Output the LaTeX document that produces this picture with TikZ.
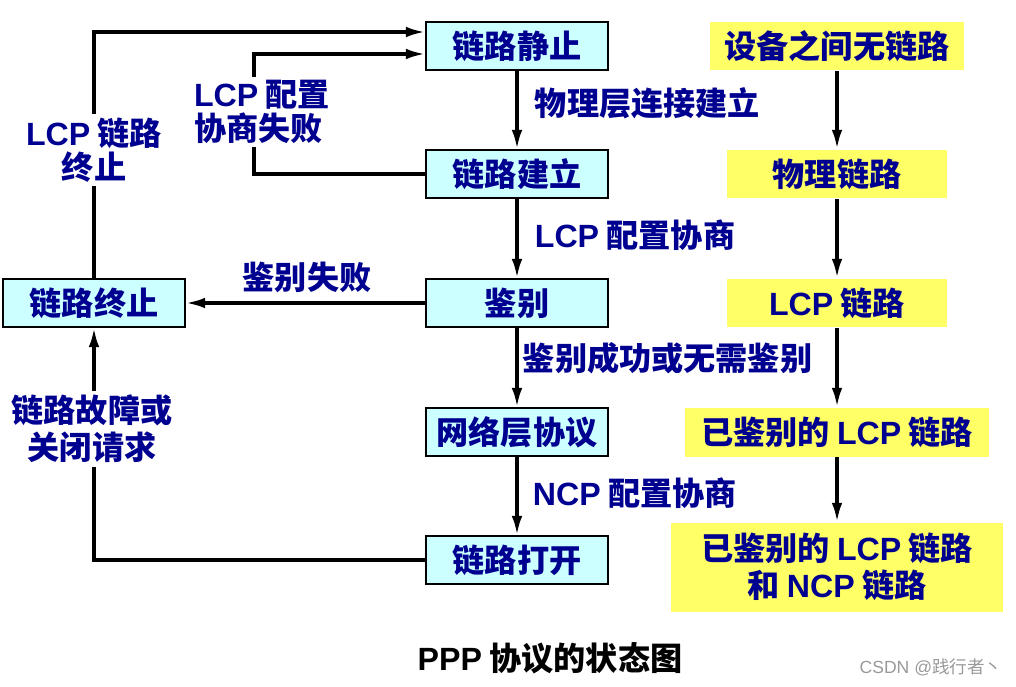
\documentclass[tikz,border=0pt]{standalone}
\usepackage{fontspec}
\setmainfont{Noto Sans CJK SC}
\newfontfamily\latfont{Liberation Sans}
\newcommand{\en}[1]{{\latfont #1}}
\usetikzlibrary{arrows.meta, positioning}
\definecolor{pnavy}{HTML}{000090}
\definecolor{pcyan}{HTML}{CCFFFF}
\definecolor{pyellow}{HTML}{FFFF66}
\tikzset{
  stbox/.style={draw=black, fill=pcyan, line width=0.8pt, inner sep=0pt,
                minimum width=3.64cm, minimum height=0.96cm, text=pnavy},
  lkbox/.style={fill=pyellow, inner sep=0pt, minimum height=0.98cm, text=pnavy},
  lbl/.style={text=pnavy, inner sep=2pt, align=center},
  arr/.style={-{Latex[length=11pt,width=6pt]}, line width=1.9pt},
  ln/.style={line width=1.9pt},
}

\begin{document}
\begin{tikzpicture}[
    x=0.02cm, y=-0.02cm,
    every node/.style={font=\fontsize{18.3}{19}\selectfont\bfseries}
  ]
  \useasboundingbox (0,0) rectangle (1016,686);

  % states
  \node[stbox] (s1) at (517,46) {链路静止};
  \node[stbox] (s2) at (517,174) {链路建立};
  \node[stbox] (s3) at (517,303) {鉴别};
  \node[stbox] (s4) at (517,432) {网络层协议};
  \node[stbox] (s5) at (517,560) {链路打开};
  \node[stbox] (term) at (94,303) {链路终止};

  % link status
  \node[lkbox, minimum width=5.08cm] (r1) at (837,46) {设备之间无链路};
  \node[lkbox, minimum width=4.42cm] (r2) at (837,174) {物理链路};
  \node[lkbox, minimum width=4.42cm] (r3) at (837,303) {\en{LCP} 链路};
  \node[lkbox, minimum width=6.08cm] (r4) at (837,432) {已鉴别的 \en{LCP} 链路};
  \node[lkbox, minimum width=6.64cm, minimum height=1.78cm, align=center] (r5) at (837,567)
    {已鉴别的 \en{LCP} 链路\\[2pt]和 \en{NCP} 链路};

  % labels
  \node[lbl, anchor=west] (t1) at (531,103) {物理层连接建立};
  \node[lbl, anchor=west] (t2) at (531,235) {\en{LCP} 配置协商};
  \node[lbl, anchor=west] (t3) at (519,358) {鉴别成功或无需鉴别};
  \node[lbl, anchor=west] (t4) at (529,493) {\en{NCP} 配置协商};
  \node[lbl] (authfail) at (307,277) {鉴别失败};
  \node[lbl, align=left] (cfgfail) at (262,112) {\en{LCP} 配置\\协商失败};
  \node[lbl] (lcpend) at (94,150) {\en{LCP} 链路\\终止};
  \node[lbl] (closereq) at (92,429) {链路故障或\\[2pt]关闭请求};

  \coordinate (lpa) at (254,54);
  \coordinate (lpb) at (94,32);
  \coordinate (lpc) at (94,560);

  \draw[arr] (s1) -- (s2);
  \draw[arr] (s2) -- (s3);
  \draw[arr] (s3) -- (s4);
  \draw[arr] (s4) -- (s5);
  \draw[arr] (s3) -- (term);

  \draw[ln] (s2.west) -| (lpa |- cfgfail.south);
  \draw[arr] (lpa |- cfgfail.north) -- (lpa) -- (lpa -| s1.west);

  \draw[ln] (term.north) -- (lcpend.south -| term);
  \draw[arr] (lcpend.north -| term) -- (lpb) -- (lpb -| s1.west);

  \draw[ln] (s5.west) -- (lpc) -- (closereq.south -| lpc);
  \draw[arr] (closereq.north -| lpc) -- (term.south);

  \draw[arr] (r1) -- (r2);
  \draw[arr] (r2) -- (r3);
  \draw[arr] (r3) -- (r4);
  \draw[arr] (r4) -- (r5);

  \node (title) at (550,658) {\en{PPP} 协议的状态图};
  \node[font=\fontsize{10}{12}\selectfont, text=black!40] (mark) at (931,667) {\en{CSDN @}践行者丶};
\end{tikzpicture}
\end{document}
